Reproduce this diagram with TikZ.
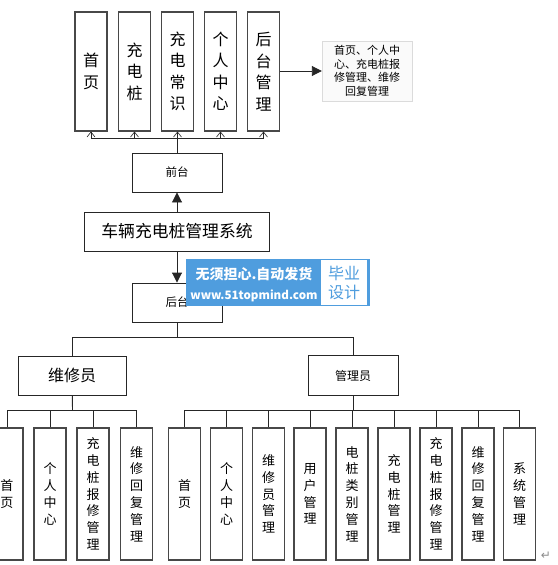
\documentclass[tikz,border=0pt]{standalone}
\usepackage{fontspec}
\newfontfamily\cjk{Noto Sans CJK SC}
\newfontfamily\symfont{DejaVu Sans}
\usepackage{tikz}
\usetikzlibrary{arrows.meta, shadows}
\definecolor{markblue}{HTML}{4F9DDE}
\definecolor{boxline}{HTML}{484848}
\tikzset{
    bigcol/.style={draw=boxline, fill=white, line width=1.1pt, minimum width=32pt, minimum height=119pt,
        align=center, inner sep=0pt, font=\cjk\fontsize{16}{21.5}\selectfont,
        drop shadow={shadow xshift=0.8pt, shadow yshift=-0.8pt, opacity=0.3}},
    smallcol/.style={bigcol, minimum height=132pt, font=\cjk\fontsize{13}{16.8}\selectfont},
    flatbox/.style={draw=black!85, fill=white, line width=0.9pt, inner sep=0pt, font=\cjk\fontsize{11.5}{13}\selectfont},
    link/.style={draw=black!85, line width=0.9pt},
    openhead/.style={link, -{Straight Barb[length=5pt,width=8pt,line width=0.6pt]}},
    solidhead/.style={link, -{Triangle[length=10pt,width=10pt]}}
}
\begin{document}
\begin{tikzpicture}[x=1pt, y=-1pt]
    \useasboundingbox (0,0) rectangle (557,565);
    % front end columns
    \foreach \name/\x/\txt in {tHome/91/首\\页, tPile/134.5/充\\电\\桩, tInfo/177.5/充\\电\\常\\识,
        tUser/220.5/个\\人\\中\\心, tBack/263.5/后\\台\\管\\理}
        \node[bigcol] (\name) at (\x,71.5) {\txt};
    \node[draw=black!14, fill=black!2, minimum width=90pt, minimum height=60pt, align=center, inner sep=0pt,
        font=\cjk\fontsize{11}{13.6}\selectfont, drop shadow={shadow xshift=1pt, shadow yshift=-1pt, opacity=0.2}]
        (note) at (367,71) {首页、个人中\\心、充电桩报\\修管理、维修\\回复管理};
    \node[flatbox] (front) at (177,172.5) [minimum width=90pt, minimum height=39pt] {前台};
    \node[flatbox, font=\cjk\fontsize{16.8}{18}\selectfont] (sys) at (177,231.5)
        [minimum width=185pt, minimum height=39pt] {车辆充电桩管理系统};
    \node[flatbox] (back) at (177,302.5) [minimum width=90pt, minimum height=39pt] {后台};
    \node[flatbox, font=\cjk\fontsize{16}{18}\selectfont] (repair) at (72,375.5)
        [minimum width=108pt, minimum height=39pt] {维修员};
    \node[flatbox, font=\cjk\fontsize{12}{14}\selectfont] (admin) at (353,375.5)
        [minimum width=90pt, minimum height=40pt] {管理员};
    % repairer columns
    \foreach \name/\x/\txt in {rHome/7/首\\页, rUser/50/个\\人\\中\\心, rReport/93/充\\电\\桩\\报\\修\\管\\理,
        rReply/136.5/维\\修\\回\\复\\管\\理}
        \node[smallcol] (\name) at (\x,494) {\txt};
    % admin columns
    \foreach \name/\x/\txt in {aHome/184.5/首\\页, aUser/226.5/个\\人\\中\\心, aRepair/268.5/维\\修\\员\\管\\理,
        aCust/310/用\\户\\管\\理, aType/352/电\\桩\\类\\别\\管\\理, aPile/394/充\\电\\桩\\管\\理,
        aReport/436/充\\电\\桩\\报\\修\\管\\理, aReply/478/维\\修\\回\\复\\管\\理, aSys/519.5/系\\统\\管\\理}
        \node[smallcol] (\name) at (\x,494) {\txt};
    % connectors
    \coordinate (topBus) at (177,138.5);
    \draw[link] (front) -- (topBus);
    \foreach \name in {tHome,tPile,tInfo,tUser,tBack}
        \draw[openhead] (topBus) -| (\name.south);
    \draw[solidhead] (sys) -- (front);
    \draw[solidhead] (sys) -- (back);
    \draw[solidhead] (tBack.east |- note) -- (note);
    \coordinate (midBus) at (177,337);
    \draw[link] (back) -- (midBus);
    \draw[link] (midBus) -| (repair.north);
    \draw[link] (midBus) -| (admin.north);
    \coordinate (repairBus) at (72.5,410);
    \draw[link] (repair) -- (repairBus);
    \foreach \name in {rHome,rUser,rReport,rReply}
        \draw[link] (repairBus) -| (\name.north);
    \coordinate (adminBus) at (353,410);
    \draw[link] (admin) -- (adminBus);
    \foreach \name in {aHome,aUser,aRepair,aCust,aType,aPile,aReport,aReply,aSys}
        \draw[link] (adminBus) -| (\name.north);
    % watermark
    \node[fill=markblue, minimum width=184pt, minimum height=47pt, inner sep=0pt] (stamp) at (278,282.5) {};
    \node[fill=white, minimum width=46pt, minimum height=45pt, align=center, inner sep=0pt, text=markblue,
        font=\cjk\fontsize{16}{19}\selectfont] (stampTag) at (344,282.5) {毕业\\设计};
    \node[text=white, font=\cjk\bfseries\fontsize{14}{15}\selectfont, inner sep=0pt] (stampLine) at (254,274.5) {无须担心.自动发货};
    \node[text=white, font=\cjk\bfseries\fontsize{11.6}{14}\selectfont, inner sep=0pt] (stampUrl) at (254,296) {www.51topmind.com};
    % paragraph mark
    \node[text=black!45, font=\symfont\fontsize{12}{12}\selectfont, inner sep=0pt] (retMark) at (546,556) {↵};
\end{tikzpicture}
\end{document}
